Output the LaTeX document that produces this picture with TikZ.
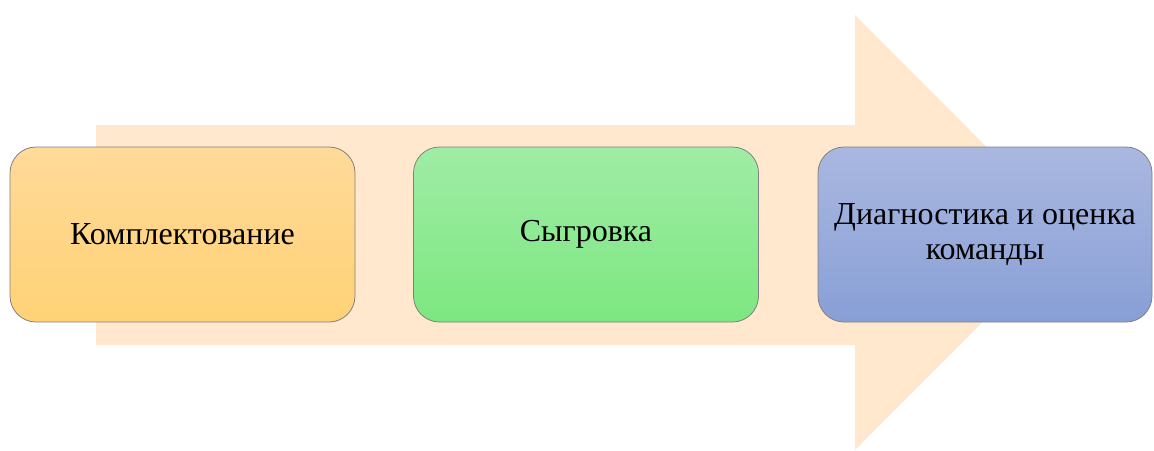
\documentclass[tikz,border=0pt]{standalone}
\usepackage{fontspec}
\setmainfont{Liberation Serif}
\begin{document}
\begin{tikzpicture}[x=1pt,y=-1pt,
  stage/.style={draw=black!50, line width=0.8pt, rounded corners=26pt,
    minimum width=345pt, minimum height=175pt, inner sep=0pt,
    align=center,
    font=\fontsize{32}{35}\selectfont, text=black},
  yellowstage/.style={stage, top color=yellow1, bottom color=yellow2},
  greenstage/.style={stage, top color=green1, bottom color=green2},
  bluestage/.style={stage, top color=blue1, bottom color=blue2}]
\definecolor{peach}{HTML}{FFE8CE}
\definecolor{yellow1}{HTML}{FFDA99}
\definecolor{yellow2}{HTML}{FFD276}
\definecolor{green1}{HTML}{A0ECA6}
\definecolor{green2}{HTML}{7CE780}
\definecolor{blue1}{HTML}{AAB8E0}
\definecolor{blue2}{HTML}{889FD6}
\useasboundingbox (0,0) rectangle (1154,450);
% background process arrow
\fill[peach] (96,125) -- (855,125) -- (855,15) -- (1072,232.5)
  -- (855,450) -- (855,345) -- (96,345) -- cycle;
% stages
\node[yellowstage] (s1) at (182.5,234.5) {Комплектование};
\node[greenstage]  (s2) at (586,234.5) {Сыгровка};
\node[bluestage, minimum width=334pt] (s3) at (985,234.5) {Диагностика и оценка\\команды};
\end{tikzpicture}
\end{document}
